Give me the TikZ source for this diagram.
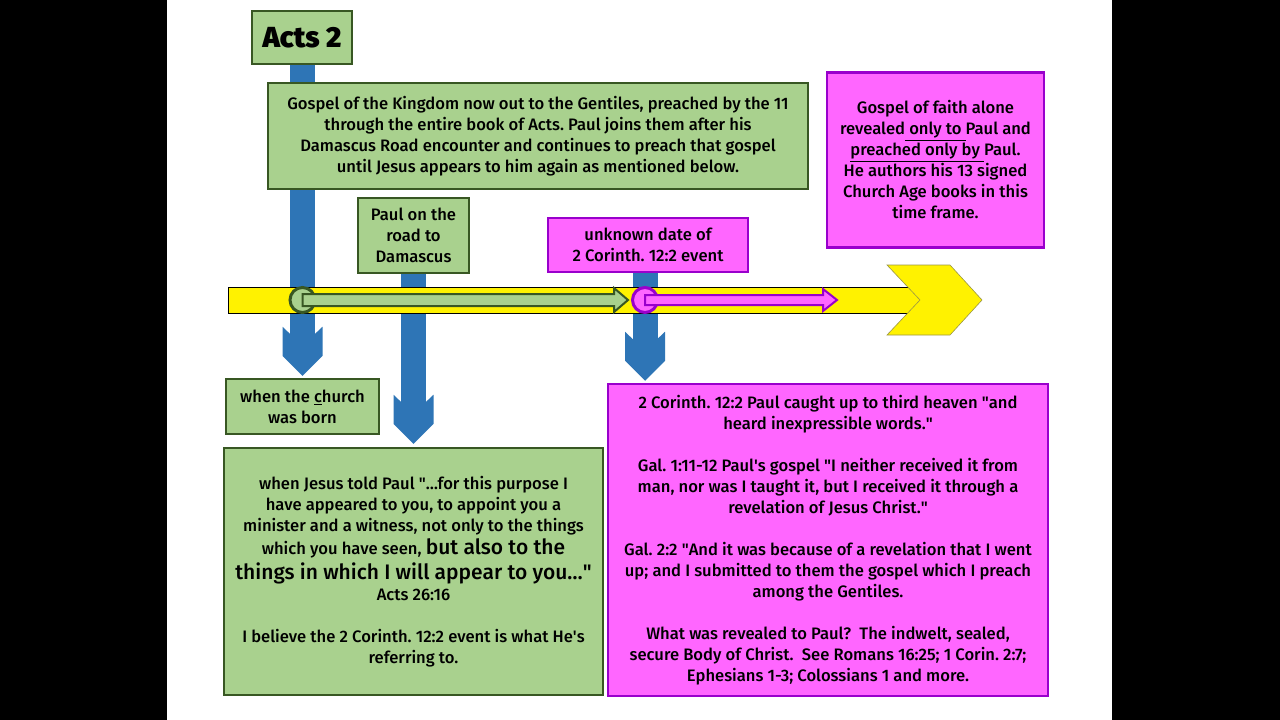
\documentclass[tikz,border=0pt]{standalone}
\usepackage{fontspec}
\setmainfont{Fira Sans}[UprightFont=* Medium, BoldFont=* Black]
\usetikzlibrary{calc}
\frenchspacing

\definecolor{boxgreen}{HTML}{A9D18E}
\definecolor{edgegreen}{HTML}{385723}
\definecolor{boxpink}{HTML}{FF66FF}
\definecolor{edgepurple}{HTML}{9900CC}
\definecolor{shaftblue}{HTML}{2E75B6}

\pgfdeclarelayer{back}
\pgfsetlayers{back,main}

\newcommand{\qq}{\textquotedbl}
\newcommand{\ap}{\textquotesingle}

% fat blue arrow: #1 top point, #2 tip
\newcommand{\bigdown}[2]{%
  \fill[shaftblue] ($(#1)+(-12.5,0)$) rectangle ($(#2)+(12.5,-30)$);
  \fill[shaftblue] (#2) -- ++(20,-20) -- ++(0,-29) -- ++(-20,19) -- ++(-20,-19) -- ++(0,29) -- cycle;}

% flat arrow along the time line: #1 from, #2 tip, #3 shaft half, #4 head half, #5 look
\newcommand{\fatright}[5]{%
  \filldraw[#5] ($(#1)+(0,-#3)$) -- ($(#2)+(-14,-#3)$) -- ($(#2)+(-14,-#4)$) -- (#2)
    -- ($(#2)+(-14,#4)$) -- ($(#2)+(-14,#3)$) -- ($(#1)+(0,#3)$) -- cycle;}

\begin{document}
\begin{tikzpicture}[x=1pt, y=-1pt,
    greenbox/.style={draw=edgegreen, fill=boxgreen, line width=2.5pt, align=center, inner sep=0pt,
      font=\fontsize{16.6}{21}\selectfont},
    pinkbox/.style={draw=edgepurple, fill=boxpink, line width=2.5pt, align=center, inner sep=0pt,
      font=\fontsize{16.6}{21}\selectfont},
    dot/.style={circle, line width=3pt, minimum size=25pt, inner sep=0pt}]

    \node[greenbox, minimum width=100pt, minimum height=53pt, font=\fontsize{29}{29}\selectfont\bfseries] (acts) at (302, 37.5) {Acts 2};
    \node[greenbox, minimum width=540pt, minimum height=106pt] (kingdom) at (538, 136) {Gospel of the Kingdom now out to the Gentiles, preached by the 11\\ through the entire book of Acts. Paul joins them after his\\ Damascus Road encounter and continues to preach that gospel\\ until Jesus appears to him again as mentioned below.};
    \node[greenbox, minimum width=111pt, minimum height=75pt] (road) at (413.5, 235.5) {Paul on the\\ road to\\ Damascus};
    \node[pinkbox, minimum width=200pt, minimum height=54pt] (unknown) at (648, 245) {unknown date of\\ 2 Corinth. 12:2 event};
    \node[pinkbox, minimum width=217pt, minimum height=175pt] (faith) at (935.5, 160) {Gospel of faith alone\\ revealed\underline{\ only to\ }Paul and\\ \underline{preached only by\ }Paul.\\ He authors his 13 signed\\ Church Age books in this\\ time frame.};
    \node[greenbox, minimum width=153pt, minimum height=55pt] (church) at (302.5, 406.5) {when the \underline{c}hurch\\ was born};
    \node[greenbox, minimum width=379pt, minimum height=247pt] (told) at (413.5, 571.5) {when Jesus told Paul \qq\dots for this purpose I\\ have appeared to you, to appoint you a\\ minister and a witness, not only to the things\\[2pt] which you have seen, {\fontsize{21}{25}\selectfont but also to the}\\[4pt] {\fontsize{21}{25}\selectfont things in which I will appear to you\dots\qq}\\ Acts 26:16\\[21pt] I believe the 2 Corinth. 12:2 event is what He\ap s\\ referring to.};
    \node[pinkbox, minimum width=440pt, minimum height=312pt] (caught) at (828, 540) {2 Corinth. 12:2 Paul caught up to third heaven \qq and\\ heard inexpressible words.\qq\\[21pt] Gal. 1:11-12 Paul\ap s gospel \qq I neither received it from\\ man, nor was I taught it, but I received it through a\\ revelation of Jesus Christ.\qq\\[21pt] Gal. 2:2 \qq And it was because of a revelation that I went\\ up; and I submitted to them the gospel which I preach\\ among the Gentiles.\\[21pt] What was revealed to Paul?\ \ The indwelt, sealed,\\ secure Body of Christ.\ \ See Romans 16:25; 1 Corin. 2:7;\\ Ephesians 1-3; Colossians 1 and more.};

    \coordinate (tip1) at ($(church.north)+(0,-2)$);
    \coordinate (tip2) at ($(road.south |- told.north)+(0,-3)$);
    \coordinate (tip3) at ($(unknown.south |- caught.north)+(-3,-2)$);

    \begin{pgfonlayer}{back}
    \fill[black] (0,0) rectangle (1280,720);
    \fill[white] (167,0) rectangle (1112,720);
    \bigdown{acts.south}{tip1}
    \bigdown{road.south}{tip2}
    \bigdown{$(unknown.south)+(-3,0)$}{tip3}
    \node[draw=black, fill=yellow, line width=0.8pt, minimum width=692pt, minimum height=26pt, inner sep=0pt] (line) at (574, 300) {};
    \filldraw[fill=yellow, draw=yellow!55!black, line width=0.6pt] (887,265) -- (950,265) -- (982,300) -- (950,335) -- (887,335) -- (920,300) -- cycle;
    \end{pgfonlayer}

    \node[dot, draw=edgegreen, fill=boxgreen] (start) at (tip1 |- line) {};
    \node[dot, draw=edgepurple, fill=boxpink] (event) at (tip3 |- line) {};
    \coordinate (gtip) at ($(event.west)+(-3,0)$);
    \coordinate (ptip) at (837, 300);

    \fatright{start.center}{gtip}{6}{12}{fill=boxgreen, draw=edgegreen, line width=2pt}
    \fatright{event.center}{ptip}{5}{11}{fill=boxpink, draw=edgepurple, line width=2pt}

\end{tikzpicture}
\end{document}
